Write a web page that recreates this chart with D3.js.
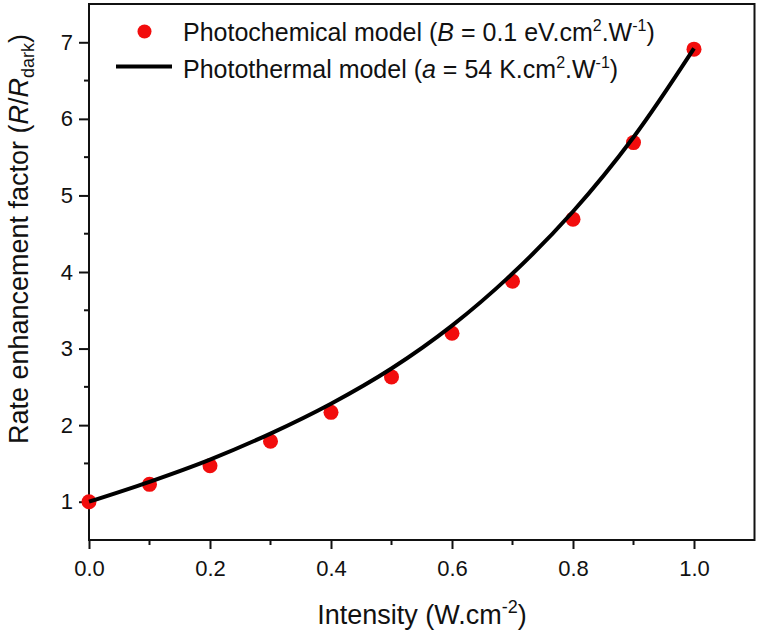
<!DOCTYPE html>
<html><head><meta charset="utf-8">
<script src="https://cdn.jsdelivr.net/npm/d3@7"></script>
<style>body{margin:0;background:#fff}svg{display:block}text{font-family:"Liberation Sans",Arial,sans-serif;fill:#111}</style>
</head><body><svg id="c" width="759" height="635"></svg>
<script>
const intensity = [0, 0.1, 0.2, 0.3, 0.4, 0.5, 0.6, 0.7, 0.8, 0.9, 1.0];
const photochemical = [1.0, 1.227, 1.47, 1.79, 2.167, 2.63, 3.2, 3.88, 4.69, 5.69, 6.91];
const curveX = [0, 0.1, 0.2, 0.3, 0.4, 0.5, 0.6, 0.7, 0.8, 0.9, 1.0];
const photothermal = [1.0, 1.26, 1.55, 1.89, 2.28, 2.74, 3.30, 3.98, 4.79, 5.76, 6.92];
const xTicks = [0, 0.2, 0.4, 0.6, 0.8, 1.0];
const yTicks = [1, 2, 3, 4, 5, 6, 7];

const FONT = '"Liberation Sans",Arial,sans-serif';
const svg = d3.select("#c");
const L = 89, R = 754.5, T = 4, B = 540;
const x = d3.scaleLinear().domain([0, 1.1]).range([L, R]);
const y = d3.scaleLinear().domain([0.5, 7.5]).range([B, T]);

// frame
svg.append("rect").attr("x", L).attr("y", T).attr("width", R - L).attr("height", B - T)
  .attr("fill", "none").attr("stroke", "#111").attr("stroke-width", 2);

// x axis
const xMinor = d3.range(0.1, 1.1, 0.2);
const gx = svg.append("g").attr("transform", `translate(0,${B})`);
gx.call(d3.axisBottom(x).tickValues(xTicks).tickFormat(d3.format(".1f")).tickSize(9).tickPadding(11))
  .call(g => g.select(".domain").remove());
gx.selectAll("line").attr("stroke", "#111").attr("stroke-width", 2);
gx.selectAll("text").attr("font-size", 22).attr("fill", "#111").style("font-family", FONT);
gx.selectAll(".minor").data(xMinor).enter().append("line").attr("class", "minor")
  .attr("x1", d => x(d)).attr("x2", d => x(d)).attr("y1", 0).attr("y2", 5)
  .attr("stroke", "#111").attr("stroke-width", 2);

// y axis
const yMinor = d3.range(1.5, 7.5, 1);
const gy = svg.append("g").attr("transform", `translate(${L},0)`);
gy.call(d3.axisLeft(y).tickValues(yTicks).tickFormat(d3.format("d")).tickSize(10).tickPadding(6))
  .call(g => g.select(".domain").remove());
gy.selectAll("line").attr("stroke", "#111").attr("stroke-width", 2);
gy.selectAll("text").attr("font-size", 22).attr("fill", "#111").style("font-family", FONT);
gy.selectAll(".minor").data(yMinor).enter().append("line").attr("class", "minor")
  .attr("y1", d => y(d)).attr("y2", d => y(d)).attr("x1", 0).attr("x2", -5)
  .attr("stroke", "#111").attr("stroke-width", 2);

// axis labels
const xl = svg.append("text").attr("x", 422).attr("y", 624).attr("text-anchor", "middle").attr("font-size", 27);
xl.append("tspan").text("Intensity (W.cm");
xl.append("tspan").attr("dy", -11).attr("font-size", 18).text("-2");
xl.append("tspan").attr("dy", 11).text(")");

const yl = svg.append("text").attr("transform", `translate(28,239) rotate(-90)`)
  .attr("text-anchor", "middle").attr("font-size", 27);
yl.append("tspan").text("Rate enhancement factor (");
yl.append("tspan").attr("font-style", "italic").text("R");
yl.append("tspan").text("/");
yl.append("tspan").attr("font-style", "italic").text("R");
yl.append("tspan").attr("dy", 6).attr("font-size", 18).text("dark");
yl.append("tspan").attr("dy", -6).text(")");

// points
svg.append("g").selectAll("circle").data(intensity).enter().append("circle")
  .attr("cx", d => x(d)).attr("cy", (d, i) => y(photochemical[i])).attr("r", 7.5).attr("fill", "#f20d0d");

// curve
const line = d3.line().x(d => x(d[0])).y(d => y(d[1])).curve(d3.curveCatmullRom.alpha(0.5));
svg.append("path").datum(curveX.map((d, i) => [d, photothermal[i]]))
  .attr("d", line).attr("fill", "none").attr("stroke", "#000").attr("stroke-width", 4);

// legend
svg.append("circle").attr("cx", 144.5).attr("cy", 31.5).attr("r", 7).attr("fill", "#f20d0d");
svg.append("line").attr("x1", 116).attr("x2", 172).attr("y1", 66.5).attr("y2", 66.5).attr("stroke", "#000").attr("stroke-width", 4);
function legendText(yPos, parts) {
  const t = svg.append("text").attr("x", 183).attr("y", yPos).attr("font-size", 25);
  parts.forEach(p => {
    const s = t.append("tspan").text(p.t);
    if (p.i) s.attr("font-style", "italic");
    if (p.sup) s.attr("dy", -10).attr("font-size", 16);
    if (p.back) s.attr("dy", 10);
  });
}
legendText(41, [{t: "Photochemical model ("}, {t: "B", i: 1}, {t: " = 0.1 eV.cm"}, {t: "2", sup: 1}, {t: ".W", back: 1}, {t: "-1", sup: 1}, {t: ")", back: 1}]);
legendText(78, [{t: "Photothermal model ("}, {t: "a", i: 1}, {t: " = 54 K.cm"}, {t: "2", sup: 1}, {t: ".W", back: 1}, {t: "-1", sup: 1}, {t: ")", back: 1}]);
</script></body></html>
